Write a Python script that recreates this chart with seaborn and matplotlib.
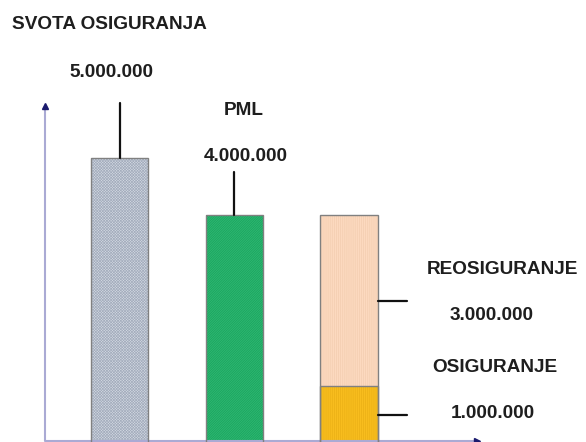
import matplotlib
matplotlib.use("Agg")
import matplotlib.pyplot as plt
from matplotlib.patches import Rectangle
import seaborn as sns
import pandas as pd

# ---- data (millions) ----
categories = ["SVOTA OSIGURANJA", "PML", "PODJELA"]
totals = [5.0, 4.0, 4.0]           # bar heights
osiguranje = [0.0, 0.0, 1.0]        # retained part (stack bottom)
reosiguranje = [0.0, 0.0, 3.0]      # reinsured part (stack top)
value_labels = ["5.000.000", "4.000.000", "3.000.000", "1.000.000"]
title_text = "SVOTA OSIGURANJA"

sns.set_theme(style="white")
plt.rcParams["font.family"] = ["Liberation Sans", "DejaVu Sans"]
plt.rcParams["hatch.linewidth"] = 0.5

W, H = 586, 442
fig = plt.figure(figsize=(W / 100, H / 100), dpi=100)
ax = fig.add_axes([0, 0, 1, 1])

# pixel <-> data mapping for layout
X0, XSTEP = 119.5, 114.75
Y0, YSTEP = 443.0, 57.0
def px(xp):
    return (xp - X0) / XSTEP
def py(yp):
    return (Y0 - yp) / YSTEP

df = pd.DataFrame({"cat": categories, "total": totals, "osig": osiguranje})
sns.barplot(data=df, x="cat", y="total", hue="cat", order=categories,
            palette=["#d4dae3", "#2cb872", "#fcd9bf"], width=0.5,
            legend=False, ax=ax, saturation=1)
sns.barplot(data=df, x="cat", y="osig", order=categories, color="#f8bd1e",
            width=0.5, ax=ax, saturation=1)

hatches = {0: ("x" * 12, "#a4adbd"), 1: ("/" * 14, "#1ba15c"),
           2: ("|" * 8, "#f3cdb0"), 5: ("|" * 8, "#eab015")}
patches = list(ax.patches)
for i, p in enumerate(patches):
    if p.get_height() <= 0:
        continue
    if i in hatches:
        h, c = hatches[i]
        p.set_hatch(h)
        p.set_edgecolor(c)
        p.set_linewidth(0)
    ax.add_patch(Rectangle(p.get_xy(), p.get_width(), p.get_height(),
                           fill=False, edgecolor="#808080", lw=1.0, zorder=3))

ax.set_xlim(px(0), px(W))
ax.set_ylim(py(H), py(0))
for s in ax.spines.values():
    s.set_visible(False)
ax.set_xticks([])
ax.set_yticks([])
ax.set_xlabel("")
ax.set_ylabel("")

# axes arrows
axis_col = "#aaaad4"
head_col = "#1a1a6e"
ax.plot([px(45), px(45)], [py(441), py(108)], color=axis_col, lw=1.5,
        solid_capstyle="butt", zorder=1)
ax.plot([px(45)], [py(106)], marker="^", color=head_col, ms=5, zorder=4)
ax.plot([px(45), px(475)], [py(441), py(441)], color=axis_col, lw=1.5,
        zorder=1)
ax.plot([px(477)], [py(441)], marker=">", color=head_col, ms=5, zorder=4)

# leader lines
bw = 0.25
ax.plot([0, 0], [totals[0], py(103)], color="#111111", lw=1.6, zorder=4)
ax.plot([1, 1], [totals[1], py(172)], color="#111111", lw=1.6, zorder=4)
mid_re = osiguranje[2] + reosiguranje[2] / 2
mid_os = osiguranje[2] / 2
for yv in (mid_re, mid_os):
    ax.plot([2 + bw, px(407)], [yv, yv], color="#111111", lw=1.6, zorder=4)

fs = 13.7
tc = "#1e1e1e"
def label(xp, yp, s, ha="center"):
    ax.text(px(xp), py(yp), s, ha=ha, va="center", fontsize=fs,
            fontweight="bold", color=tc)

label(12, 24.5, title_text, ha="left")
label(111.5, 72, value_labels[0])
label(243.5, 110, "PML")
label(245.5, 156, value_labels[1])
label(502, 270, "REOSIGURANJE")
label(492, 315, value_labels[2])
label(495, 367, "OSIGURANJE")
label(493, 413, value_labels[3])

fig.savefig("out.png", dpi=100)
